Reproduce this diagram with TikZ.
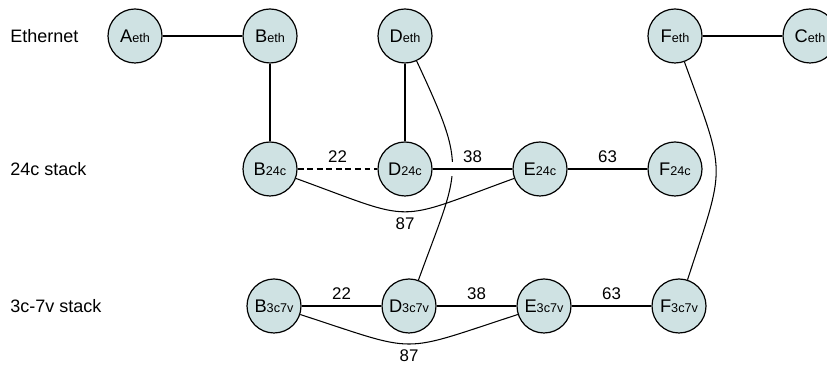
\documentclass[tikz,border=0pt]{standalone}
\usepackage{fontspec}
\setmainfont{Liberation Sans}
\usetikzlibrary{backgrounds}

\definecolor{hostfill}{RGB}{207,226,227}

\tikzset{
  host/.style={circle, draw, fill=hostfill, line width=0.85pt, minimum size=1.35cm, inner sep=0pt},
  link/.style={line width=0.75pt},
  weight/.style={font=\fontsize{12}{14}\selectfont, inner sep=4pt},
  layer/.style={anchor=west, font=\fontsize{12.8}{15}\selectfont, inner sep=0pt},
}
\newcommand{\hostlabel}[2]{{\fontsize{13}{15}\selectfont #1}{\fontsize{9}{11}\selectfont #2}}

\begin{document}
\begin{tikzpicture}
\useasboundingbox (0,0) rectangle (20.675,9.3);

%layers
	\node[layer] (eth) at (0.25, 8.4) {Ethernet};
	\node[layer] (s24c) at (0.25, 5.075) {24c stack};
	\node[layer] (s3c7v) at (0.25, 1.65) {3c-7v stack};

%hosts
	\foreach \x/\y/\name/\sub in {3.375/8.4/A/eth, 6.75/8.4/B/eth, 10.125/8.4/D/eth, 16.875/8.4/F/eth, 20.25/8.4/C/eth,
		6.75/5.075/B/24c, 10.125/5.075/D/24c, 13.5/5.075/E/24c, 16.875/5.075/F/24c,
		6.85/1.65/B/3c7v, 10.225/1.65/D/3c7v, 13.6/1.65/E/3c7v, 16.975/1.65/F/3c7v}{
		\node[host] (\name\sub) at (\x, \y) {\hostlabel{\name}{\sub}};
	}

%links
\begin{scope}[on background layer]
	\draw[link] (Aeth) -- (Beth);
	\draw[link] (Feth) -- (Ceth);
	\draw[link] (Beth) -- (B24c);
	\draw[link] (Deth) -- (D24c);
	\draw[link] (Deth) to[out=-65, in=70, looseness=1.42] (D3c7v);
	\draw[link] (Feth) to[out=-70, in=72, looseness=1.45] (F3c7v);

	% 24c stack
	\draw[link, dash pattern=on 4.2pt off 2.6pt] (B24c) -- node[weight, above] {22} (D24c);
	\draw[link, preaction={draw, white, line width=0.35cm}] (D24c) -- node[weight, above] {38} (E24c);
	\draw[link] (E24c) -- node[weight, above] {63} (F24c);
	\draw[link] (B24c) to[out=-20, in=200, looseness=1.53] node[weight, below] {87} (E24c);

	% 3c-7v stack
	\draw[link] (B3c7v) -- node[weight, above] {22} (D3c7v);
	\draw[link] (D3c7v) -- node[weight, above] {38} (E3c7v);
	\draw[link] (E3c7v) -- node[weight, above] {63} (F3c7v);
	\draw[link] (B3c7v) to[out=-18, in=198, looseness=1.5] node[weight, below] {87} (E3c7v);
\end{scope}

\end{tikzpicture}
\end{document}
